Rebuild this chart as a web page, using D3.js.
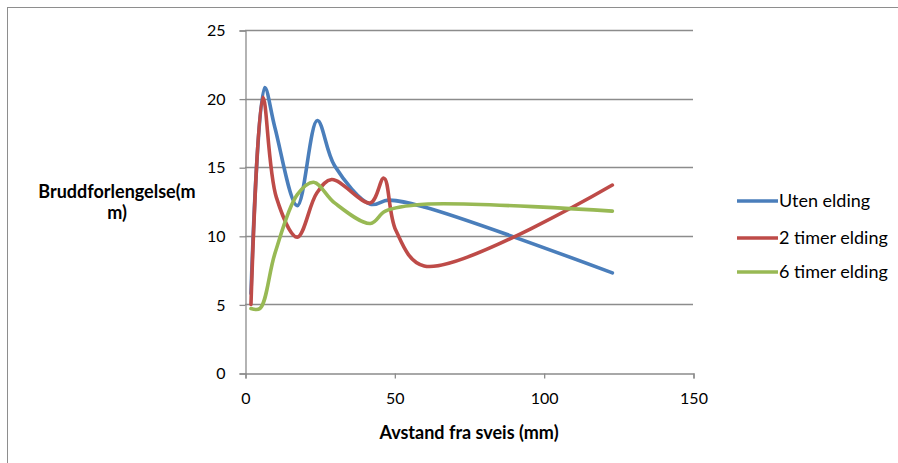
<!DOCTYPE html>
<html><head><meta charset="utf-8">
<script src="https://cdn.jsdelivr.net/npm/d3@7"></script>
<style>body{margin:0;background:#fff} svg{display:block}</style>
</head><body><svg id="c" width="898" height="463"></svg>
<script>
const seriesNames = ["Uten elding", "2 timer elding", "6 timer elding"];
const seriesColors = ["#4A7EBB", "#BE4B48", "#98B954"];
const xUten = [2, 6.6, 10, 17.5, 24.2, 30, 42, 48, 60, 123];
const yUten = [5.8, 20.8, 17.9, 12.2, 18.4, 15.1, 12.3, 12.6, 12.1, 7.3];
const x2t = [2, 6, 10.5, 17.5, 24, 29, 42, 46.5, 50.5, 60, 123];
const y2t = [5.0, 20.1, 12.8, 9.9, 13.1, 14.1, 12.4, 14.2, 10.4, 7.8, 13.7];
const x6t = [2, 5, 10, 17.5, 23, 30, 42, 47, 60, 123];
const y6t = [4.7, 4.7, 8.7, 13.0, 13.9, 12.4, 10.9, 11.8, 12.3, 11.8];
const xTicks = [0, 50, 100, 150];
const yTicks = [0, 5, 10, 15, 20, 25];
const xTitle = "Avstand fra sveis (mm)";
const yTitleLines = ["Bruddforlengelse(m", "m)"];

const series = [
  {name: seriesNames[0], color: seriesColors[0], pts: xUten.map((x, i) => [x, yUten[i]])},
  {name: seriesNames[1], color: seriesColors[1], pts: x2t.map((x, i) => [x, y2t[i]])},
  {name: seriesNames[2], color: seriesColors[2], pts: x6t.map((x, i) => [x, y6t[i]])}
];

const svg = d3.select("#c");
const font = "Lato, 'Open Sans', sans-serif";
const grid = "#8c8c8c";

svg.append("rect").attr("x", 7.5).attr("y", 7.5).attr("width", 1000).attr("height", 1000)
  .attr("fill", "none").attr("stroke", "#8e8e8e").attr("stroke-width", 1);

const x = d3.scaleLinear().domain([0, 150]).range([245, 693]);
const y = d3.scaleLinear().domain([0, 25]).range([373, 30]);

svg.append("g").selectAll("line").data(yTicks.filter(d => d > 0)).join("line")
  .attr("x1", x(0)).attr("x2", x(150))
  .attr("y1", d => Math.round(y(d)) + 0.5).attr("y2", d => Math.round(y(d)) + 0.5)
  .attr("stroke", grid).attr("stroke-width", 1.3);

const yAxis = d3.axisLeft(y).tickValues(yTicks).tickSize(6).tickPadding(14).tickFormat(d3.format("d"));
const gy = svg.append("g").attr("transform", `translate(${x(0) + 0.5},0.5)`).call(yAxis);
gy.select(".domain").attr("stroke", grid).attr("stroke-width", 1.3);
gy.selectAll(".tick line").attr("stroke", grid).attr("stroke-width", 1.3);
gy.selectAll(".tick text").attr("font-family", font).attr("font-size", 16).attr("fill", "#000");

const xAxis = d3.axisBottom(x).tickValues(xTicks).tickSize(5).tickPadding(14).tickFormat(d3.format("d"));
const gx = svg.append("g").attr("transform", `translate(0.5,${y(0) + 0.5})`).call(xAxis);
gx.select(".domain").attr("stroke", grid).attr("stroke-width", 1.3);
gx.selectAll(".tick line").attr("stroke", grid).attr("stroke-width", 1.3);
gx.selectAll(".tick text").attr("font-family", font).attr("font-size", 16).attr("fill", "#000");

const line = d3.line().x(d => x(d[0])).y(d => y(d[1])).curve(d3.curveCatmullRom.alpha(0.5));
svg.append("g").selectAll("path").data(series).join("path")
  .attr("d", d => line(d.pts))
  .attr("fill", "none").attr("stroke", d => d.color).attr("stroke-width", 3.6)
  .attr("stroke-linejoin", "round").attr("stroke-linecap", "round");

svg.append("text").attr("x", 469).attr("y", 439).attr("text-anchor", "middle")
  .attr("font-family", font).attr("font-size", 18).attr("font-weight", "bold").text(xTitle);
svg.append("text").attr("font-family", font).attr("font-size", 18).attr("font-weight", "bold")
  .attr("text-anchor", "middle").selectAll("tspan").data(yTitleLines).join("tspan")
  .attr("x", 117).attr("y", (d, i) => 198 + i * 21).text(d => d);

const legendY = [201, 238, 272];
const lg = svg.append("g").selectAll("g").data(series).join("g")
  .attr("transform", (d, i) => `translate(0,${legendY[i]})`);
lg.append("line").attr("x1", 737).attr("x2", 778).attr("stroke", d => d.color).attr("stroke-width", 3.6);
lg.append("text").attr("x", 779).attr("y", 6).attr("font-family", font).attr("font-size", 18)
  .attr("fill", "#000").text(d => d.name);
</script></body></html>
